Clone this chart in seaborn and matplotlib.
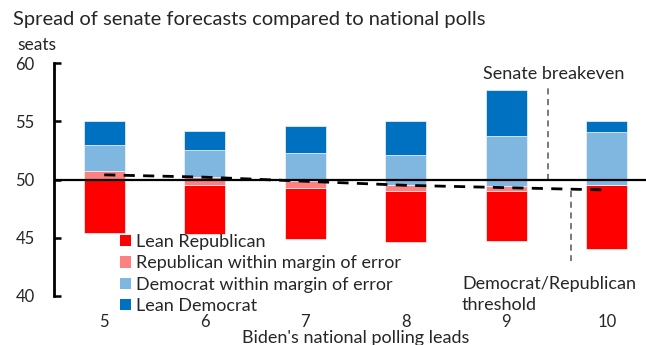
import matplotlib
matplotlib.use("Agg")
import matplotlib.pyplot as plt
import seaborn as sns
import pandas as pd
import numpy as np
from matplotlib.patches import Patch

# Biden's national polling lead (percentage points)
leads = ["5", "6", "7", "8", "9", "10"]

# Senate seat forecast ranges, stacked from the low end of each range
range_low = [45.4, 45.3, 44.9, 44.6, 44.7, 44.0]
lean_rep = [4.6, 4.2, 4.4, 4.4, 4.3, 5.5]
rep_moe = [0.7, 0.7, 0.6, 0.5, 0.4, 0.0]
dem_moe = [2.3, 2.3, 2.4, 2.6, 4.3, 4.6]
lean_dem = [2.0, 1.7, 2.3, 2.9, 4.0, 0.9]

# Democrat/Republican threshold across polling leads
threshold = [50.4, 50.2, 49.85, 49.5, 49.3, 49.1]

series_names = ["Lean Republican", "Republican within margin of error",
                "Democrat within margin of error", "Lean Democrat"]
series_colors = ["#FF0000", "#FF8080", "#80B7E0", "#0070C0"]

sns.set_theme(style="white")
plt.rcParams["font.family"] = ["Lato", "DejaVu Sans"]

W, H = 646, 345
fig = plt.figure(figsize=(W / 100, H / 100), dpi=100)
ax = fig.add_axes([54 / W, 49 / H, 592 / W, 233 / H])


def fpos(x, y):
    return x / W, 1 - y / H


bottom = np.array(range_low, dtype=float)
for name, vals, color in zip(series_names, [lean_rep, rep_moe, dem_moe, lean_dem], series_colors):
    df = pd.DataFrame({"lead": leads, "seats": vals})
    sns.barplot(data=df, x="lead", y="seats", order=leads, bottom=bottom.copy(),
                color=color, saturation=1, width=0.41, errorbar=None,
                edgecolor="#f4f4f4", linewidth=0.5, ax=ax, zorder=2)
    bottom += np.array(vals, dtype=float)

ax.axhline(50, color="black", lw=1.6, zorder=3)
sns.lineplot(x=leads, y=threshold, sort=False, color="black", lw=2.0,
             linestyle=(0, (4, 3)), ax=ax, zorder=4)

# breakeven / threshold markers
ax.plot([4.42, 4.42], [50, 58.0], color="#555555", lw=1.1, linestyle=(0, (4, 3)), zorder=1)
ax.plot([4.64, 4.64], [49, 43.0], color="#555555", lw=1.1, linestyle=(0, (4, 3)), zorder=1)

ax.set_ylim(40, 60)
ax.set_xlim(-0.5, -0.5 + 592 / 100.5)
ax.set_yticks([40, 45, 50, 55, 60])
ax.set_xlabel("")
ax.set_ylabel("")
for s in ["top", "right", "bottom"]:
    ax.spines[s].set_visible(False)
ax.spines["left"].set_linewidth(2)
ax.spines["left"].set_color("black")
ax.tick_params(axis="y", direction="in", length=5, width=1.8, color="black",
               labelsize=12, pad=14, left=True)
ax.tick_params(axis="x", length=0, labelsize=12, pad=13)

handles = [Patch(facecolor=c, edgecolor="none") for c in series_colors]
fig.legend(handles, series_names, loc="upper left", bbox_to_anchor=fpos(120, 234),
           frameon=False, fontsize=13, handlelength=0.63, handleheight=0.57,
           handletextpad=0.25, labelspacing=0.3, borderpad=0, borderaxespad=0)

fig.text(*fpos(13, 20), "Spread of senate forecasts compared to national polls",
         fontsize=14.5, va="center", ha="left")
fig.text(*fpos(17, 45), "seats", fontsize=12.5, va="center", ha="left")
fig.text(*fpos(483, 74), "Senate breakeven", fontsize=13, va="center", ha="left")
fig.text(*fpos(462, 284), "Democrat/Republican", fontsize=13, va="center", ha="left")
fig.text(*fpos(462, 305), "threshold", fontsize=13, va="center", ha="left")
fig.text(*fpos(356, 338), "Biden's national polling leads", fontsize=13,
         va="center", ha="center")

fig.savefig("out.png", dpi=100)
